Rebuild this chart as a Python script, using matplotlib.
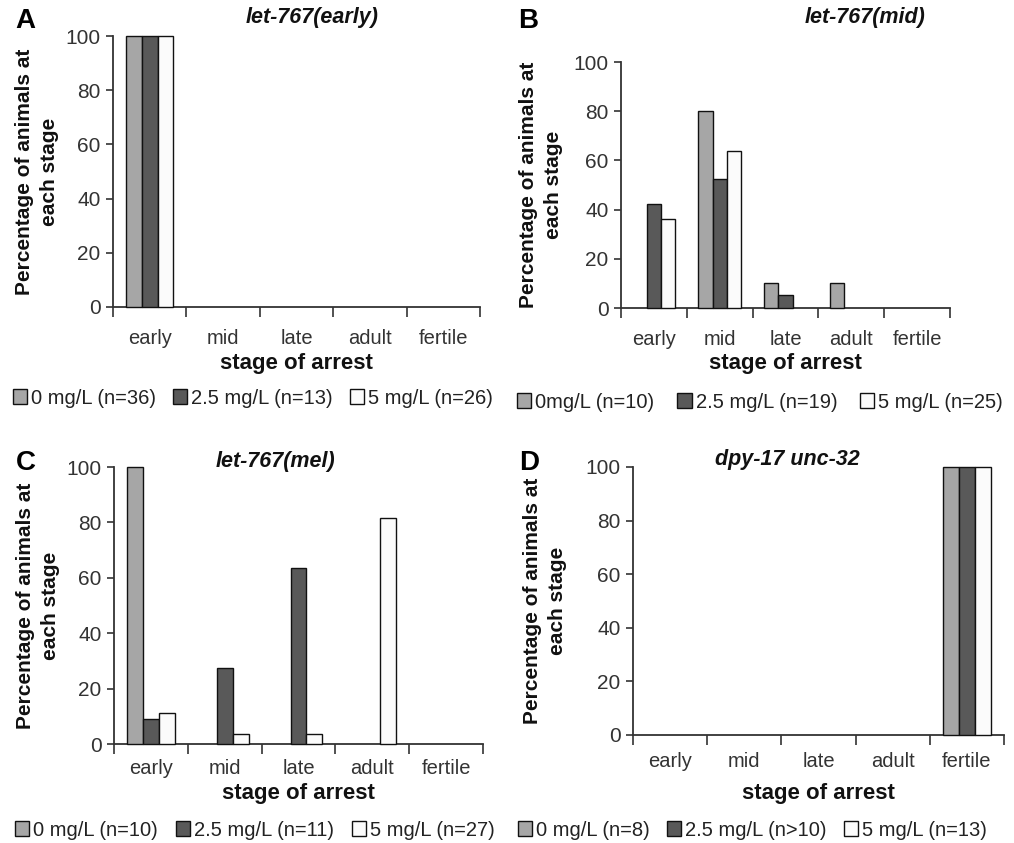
import matplotlib
matplotlib.use("Agg")
import matplotlib.pyplot as plt
from matplotlib.patches import Patch
import numpy as np

plt.rcParams['font.family'] = ['Liberation Sans', 'DejaVu Sans']

stages = ["early", "mid", "late", "adult", "fertile"]
series_colors = ["#a6a6a6", "#595959", "#fbfbfb"]

titles = ["let-767(early)", "let-767(mid)", "let-767(mel)", "dpy-17 unc-32"]
panel_letters = ["A", "B", "C", "D"]

# values (%) per dose: 0, 2.5, 5 mg/L
a_0 = [100, 0, 0, 0, 0]
a_25 = [100, 0, 0, 0, 0]
a_5 = [100, 0, 0, 0, 0]

b_0 = [0, 80, 10, 10, 0]
b_25 = [42.1, 52.6, 5.3, 0, 0]
b_5 = [36, 64, 0, 0, 0]

c_0 = [100, 0, 0, 0, 0]
c_25 = [9.1, 27.3, 63.6, 0, 0]
c_5 = [11.1, 3.7, 3.7, 81.5, 0]

d_0 = [0, 0, 0, 0, 100]
d_25 = [0, 0, 0, 0, 100]
d_5 = [0, 0, 0, 0, 100]

legend_a = ["0 mg/L (n=36)", "2.5 mg/L (n=13)", "5 mg/L (n=26)"]
legend_b = ["0mg/L (n=10)", "2.5 mg/L (n=19)", "5 mg/L (n=25)"]
legend_c = ["0 mg/L (n=10)", "2.5 mg/L (n=11)", "5 mg/L (n=27)"]
legend_d = ["0 mg/L (n=8)", "2.5 mg/L (n>10)", "5 mg/L (n=13)"]

yticks = [0, 20, 40, 60, 80, 100]

W, H = 1014, 843
fig = plt.figure(figsize=(W / 100, H / 100), dpi=100)

# layout in pixels: left, top, right, bottom of axes
boxes = [(113, 36, 480, 307), (621, 62, 950, 308), (114, 467, 483, 744), (633, 467, 1004, 735)]
title_pos = [(312, 17), (865, 17), (275, 462), (787, 460)]
letter_pos = [(25, 21), (528, 21), (26, 463), (529, 463)]
legend_pos = [(13, 398), (517, 402), (15, 830), (518, 830)]
legend_colsp = [0.85, 1.15, 0.9, 0.85]
xtick_pad = [16, 15.5, 11, 12.5]
xlabel_off = [56, 55, 49, 58]
ylabel_off = [76, 80, 76, 88]

data = [(a_0, a_25, a_5), (b_0, b_25, b_5), (c_0, c_25, c_5), (d_0, d_25, d_5)]
legends = [legend_a, legend_b, legend_c, legend_d]

x = np.arange(len(stages))
bw = 0.215
tick_col = "#333333"

for i in range(4):
    l, t, r, b = boxes[i]
    ax = fig.add_axes([l / W, 1 - b / H, (r - l) / W, (b - t) / H])
    for k, vals in enumerate(data[i]):
        lws = [1.0 if v > 0 else 0.0 for v in vals]
        ax.bar(x + (k - 1) * bw, vals, width=bw, color=series_colors[k],
               edgecolor="#111111", linewidth=lws, clip_on=False, zorder=3)
    ax.set_xlim(-0.5, 4.5)
    ax.set_ylim(0, 100)
    ax.set_yticks(yticks)
    ax.tick_params(axis='y', labelsize=15, colors=tick_col, labelcolor="#333333",
                   length=5, width=1.2, direction='out', pad=4)
    ax.set_xticks(np.arange(-0.5, 5.0, 1.0))
    ax.set_xticklabels([])
    ax.set_xticks(x, minor=True)
    ax.set_xticklabels(stages, minor=True)
    ax.tick_params(axis='x', which='major', length=7, width=1.2, direction='out', colors=tick_col)
    ax.tick_params(axis='x', which='minor', length=0, labelsize=14.5, labelcolor="#333333",
                   pad=xtick_pad[i])
    for s in ["top", "right"]:
        ax.spines[s].set_visible(False)
    for s in ["left", "bottom"]:
        ax.spines[s].set_color(tick_col)
        ax.spines[s].set_linewidth(1.3)
    ax.set_xlabel("stage of arrest", fontsize=16, fontweight='bold', color="#111111")
    ax.xaxis.set_label_coords(0.5, -xlabel_off[i] / (b - t))
    ax.xaxis.label.set_va('center')
    ax.set_ylabel("Percentage of animals at\neach stage", fontsize=15, fontweight='bold',
                  color="#111111", linespacing=1.4)
    ax.yaxis.set_label_coords(-ylabel_off[i] / (r - l), 0.5)
    ax.yaxis.label.set_va('center')

    tx, ty = title_pos[i]
    fig.text(tx / W, 1 - ty / H, titles[i], fontsize=15.5, fontweight='bold', style='italic',
             ha='center', va='center', color="#111111")
    lx, ly = letter_pos[i]
    fig.text(lx / W, 1 - ly / H, panel_letters[i], fontsize=20, fontweight='bold',
             ha='center', va='center', color="#000000")

    handles = [Patch(facecolor=series_colors[k], edgecolor="#111111", linewidth=1.0)
               for k in range(3)]
    gx, gy = legend_pos[i]
    fig.legend(handles, legends[i], loc='center left', bbox_to_anchor=(gx / W, 1 - gy / H),
               ncol=3, frameon=False, fontsize=14.5, handlelength=0.7, handleheight=0.7,
               handletextpad=0.2, columnspacing=legend_colsp[i], borderpad=0, borderaxespad=0,
               labelcolor="#222222")

fig.savefig("out.png", dpi=100)
